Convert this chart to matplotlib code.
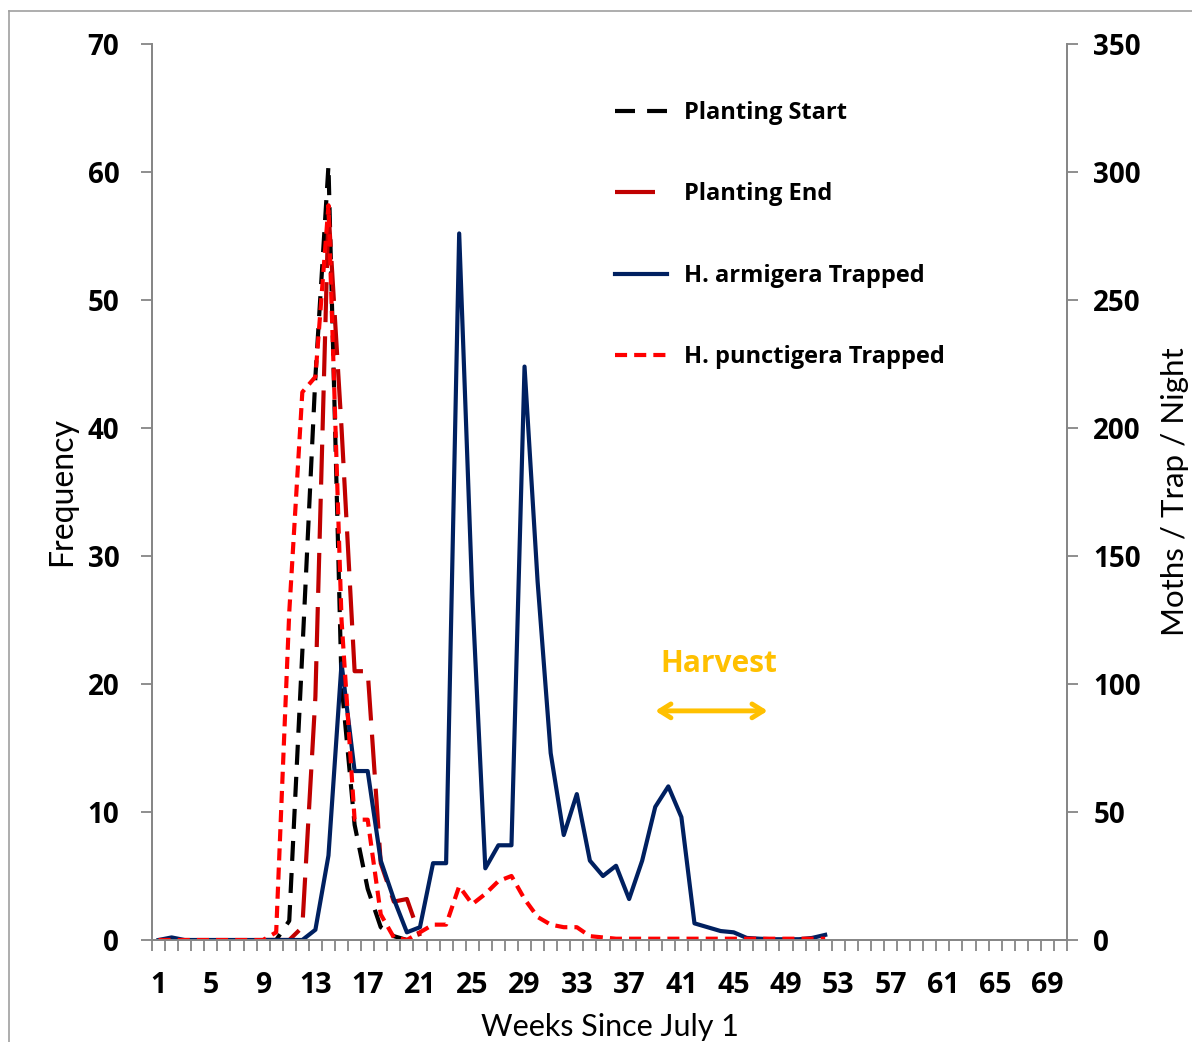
import numpy as np
import matplotlib
matplotlib.use("Agg")
import matplotlib.pyplot as plt
from matplotlib.lines import Line2D

# data
weeks_plant = list(range(9, 22))
plant_start = [0, 0, 1.5, 22.5, 44, 60.5, 20, 9, 4, 1, 0.3, 0, 0]
plant_end = [0, 0, 0, 1, 19, 57, 40, 21, 21, 6, 3, 3.2, 0.3]

weeks_trap = list(range(1, 53))
armigera = [0, 1] + [0] * 10 + [4, 33, 108, 66, 66, 31, 16, 3, 5, 30, 30, 276, 135, 28,
                                37, 37, 224, 140, 73, 41, 57, 31, 25, 29, 16, 31, 52, 60,
                                48, 6.5, 5, 3.5, 3, 0.8, 0.5, 0.3, 0.3, 0.3, 0.8, 2]
punctigera = [0] * 9 + [3, 128, 214, 220, 287, 125, 47, 47, 10, 1, 0, 3, 6, 6, 21, 14,
                        18, 23, 25, 16, 9, 6, 5, 5, 1.5, 1] + [0.5] * 17

xticks = list(range(1, 70, 4))
left_ticks = list(range(0, 71, 10))
right_ticks = list(range(0, 351, 50))

gray = "#868686"
navy = "#002060"
dred = "#C00000"
red = "#FF0000"
gold = "#FFC000"

lato = ["Lato", "DejaVu Sans"]
opens = ["Open Sans", "DejaVu Sans"]

fig = plt.figure(figsize=(11.92, 10.42), dpi=100)
ax = fig.add_axes([152 / 1192, 1 - 940 / 1042, 915 / 1192, 896 / 1042])
ax2 = ax.twinx()

# figure border
fig.add_artist(Line2D([9 / 1192, 9 / 1192], [0, 1 - 11 / 1042], transform=fig.transFigure,
                      color="#a0a0a0", lw=1.2))
fig.add_artist(Line2D([9 / 1192, 1], [1 - 11 / 1042, 1 - 11 / 1042], transform=fig.transFigure,
                      color="#a0a0a0", lw=1.2))

lw = 3
h1, = ax.plot(weeks_plant, plant_start, color="black", lw=lw, dashes=(4.8, 2.9),
              label="Planting Start")
h2, = ax.plot(weeks_plant, plant_end, color=dred, lw=lw, dashes=(9.6, 3.4),
              label="Planting End")
h3, = ax2.plot(weeks_trap, armigera, color=navy, lw=lw, label="H. armigera Trapped")
h4, = ax2.plot(weeks_trap, punctigera, color=red, lw=lw, dashes=(2.9, 1.7),
               label="H. punctigera Trapped")

ax.set_xlim(0.5, 70.5)
ax.set_ylim(0, 70)
ax2.set_ylim(0, 350)

for a in (ax, ax2):
    a.spines["top"].set_visible(False)
    for s in ("left", "right", "bottom"):
        a.spines[s].set_color(gray)
        a.spines[s].set_linewidth(1.3)

ax.set_yticks(left_ticks)
ax2.set_yticks(right_ticks)
ax.tick_params(axis="y", length=8, width=1.3, color=gray, pad=15.5)
ax2.tick_params(axis="y", length=8, width=1.3, color=gray, pad=11)
for lab in ax.get_yticklabels() + ax2.get_yticklabels():
    lab.set_family(opens)
    lab.set_fontweight("bold")
    lab.set_fontsize(20)

ax.set_xticks(xticks)
ax.set_xticks(np.arange(0.5, 71, 1), minor=True)
ax.tick_params(axis="x", which="major", length=0, pad=22)
ax.tick_params(axis="x", which="minor", length=8, width=1.3, color=gray)
for lab in ax.get_xticklabels():
    lab.set_family(opens)
    lab.set_fontweight("bold")
    lab.set_fontsize(20.5)

ax.set_xlabel("Weeks Since July 1", family=lato, fontsize=22, va="center")
ax.xaxis.set_label_coords(0.5, (940 - 1027) / 896)
ax.set_ylabel("Frequency", family=lato, fontsize=23, va="center")
ax.yaxis.set_label_coords((62 - 152) / 915, 0.5)
ax2.set_ylabel("Moths / Trap / Night", family=lato, fontsize=22.5, va="center")
ax2.yaxis.set_label_coords((1175 - 152) / 915, 0.5)

# harvest window
ax.annotate("", xy=(39.0, 17.9), xytext=(47.6, 17.9),
            arrowprops=dict(arrowstyle="<->,head_length=0.8,head_width=0.5",
                            color=gold, lw=3.5, shrinkA=0, shrinkB=0))
ax.text(43.9, 21.6, "Harvest", color=gold, fontsize=21.5, fontweight="bold",
        family=opens, ha="center", va="center")

leg = ax2.legend(handles=[h1, h2, h3, h4], loc="upper left",
                 bbox_to_anchor=(0.483, 0.96), frameon=False, handlelength=2.2,
                 handletextpad=0.7, labelspacing=2.43,
                 prop={"family": opens, "weight": "bold", "size": 17})

fig.savefig("out.png", dpi=100)
